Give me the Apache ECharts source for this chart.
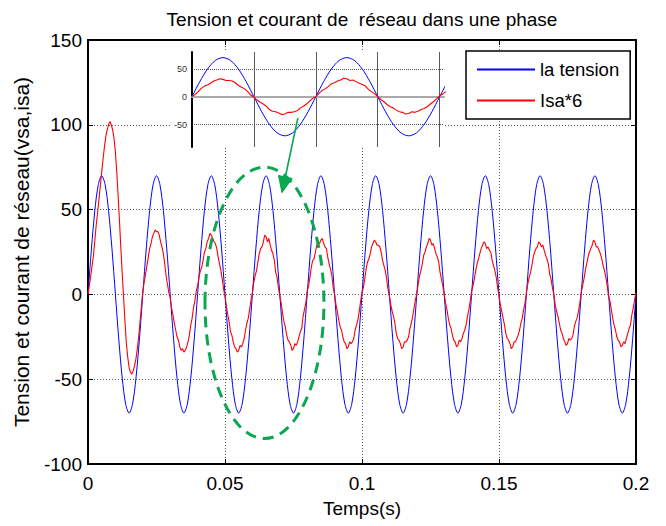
<!DOCTYPE html>
<html>
<head>
<meta charset="utf-8">
<script src="https://cdn.jsdelivr.net/npm/echarts@6/dist/echarts.min.js"></script>
<style>
  html, body { margin: 0; padding: 0; background: #fff; }
  #chart { width: 666px; height: 526px; }
</style>
</head>
<body>
<div id="chart"></div>
<script>
// Phase voltage (V), sampled every 1.25 ms over 0..0.2 s
const tensionStep = 0.00125;
const tension = [
  0, 26.8, 49.5, 64.7, 70, 64.7, 49.5, 26.8, 0, -26.8, -49.5, -64.7, -70, -64.7, -49.5, -26.8,
  0, 26.8, 49.5, 64.7, 70, 64.7, 49.5, 26.8, 0, -26.8, -49.5, -64.7, -70, -64.7, -49.5, -26.8,
  0, 26.8, 49.5, 64.7, 70, 64.7, 49.5, 26.8, 0, -26.8, -49.5, -64.7, -70, -64.7, -49.5, -26.8,
  0, 26.8, 49.5, 64.7, 70, 64.7, 49.5, 26.8, 0, -26.8, -49.5, -64.7, -70, -64.7, -49.5, -26.8,
  0, 26.8, 49.5, 64.7, 70, 64.7, 49.5, 26.8, 0, -26.8, -49.5, -64.7, -70, -64.7, -49.5, -26.8,
  0, 26.8, 49.5, 64.7, 70, 64.7, 49.5, 26.8, 0, -26.8, -49.5, -64.7, -70, -64.7, -49.5, -26.8,
  0, 26.8, 49.5, 64.7, 70, 64.7, 49.5, 26.8, 0, -26.8, -49.5, -64.7, -70, -64.7, -49.5, -26.8,
  0, 26.8, 49.5, 64.7, 70, 64.7, 49.5, 26.8, 0, -26.8, -49.5, -64.7, -70, -64.7, -49.5, -26.8,
  0, 26.8, 49.5, 64.7, 70, 64.7, 49.5, 26.8, 0, -26.8, -49.5, -64.7, -70, -64.7, -49.5, -26.8,
  0, 26.8, 49.5, 64.7, 70, 64.7, 49.5, 26.8, 0, -26.8, -49.5, -64.7, -70, -64.7, -49.5, -26.8,
  0
];

// Line current scaled by 6 (isa*6), sampled every 0.5 ms over 0..0.2 s (one row = 10 ms)
const isaStep = 0.0005;
const isa6 = [
  0, 5, 11, 17, 23, 32, 41, 48, 56, 64, 72, 80, 87, 93, 97, 100, 102, 100, 97, 92,
  84, 72, 58, 43, 27, 12, -2, -16, -29, -37, -43, -46, -47, -45, -42, -38, -32, -25, -16, -7,
  2, 7, 12, 17, 22, 27, 30, 34, 36, 38, 37, 37, 35, 31, 28, 24, 18, 11, 6, 1,
  -2, -8, -12, -17, -21, -25, -27, -31, -33, -32, -34, -33, -31, -28, -24, -18, -14, -8, -4, 2,
  5, 10, 14, 16, 20, 25, 27, 31, 33, 36, 35, 33, 31, 30, 27, 22, 18, 14, 9, 3,
  -1, -7, -12, -16, -22, -24, -28, -31, -32, -34, -33, -30, -31, -29, -26, -21, -17, -14, -9, -3,
  1, 7, 11, 14, 19, 24, 27, 28, 31, 35, 34, 31, 33, 29, 26, 24, 20, 13, 10, 4,
  -1, -5, -11, -16, -19, -24, -27, -28, -30, -33, -32, -29, -30, -28, -25, -22, -20, -13, -9, -5,
  2, 5, 10, 16, 20, 21, 25, 29, 31, 30, 32, 33, 30, 28, 27, 22, 18, 15, 11, 4,
  0, -6, -10, -15, -19, -21, -25, -28, -29, -32, -31, -28, -29, -28, -26, -21, -18, -15, -10, -4,
  1, 4, 9, 15, 19, 21, 24, 28, 30, 32, 31, 29, 29, 28, 25, 20, 17, 14, 9, 3,
  -1, -6, -10, -13, -17, -23, -26, -27, -29, -32, -31, -28, -28, -27, -25, -20, -17, -13, -8, -3,
  0, 6, 11, 14, 18, 23, 25, 28, 30, 33, 32, 29, 30, 27, 24, 22, 19, 13, 9, 5,
  0, -5, -9, -14, -18, -20, -24, -27, -28, -31, -30, -27, -28, -26, -23, -21, -18, -13, -9, -4,
  2, 5, 9, 14, 18, 21, 24, 27, 29, 31, 30, 27, 28, 26, 25, 20, 17, 14, 10, 4,
  -1, -6, -10, -14, -18, -23, -26, -27, -29, -32, -31, -28, -28, -26, -24, -21, -17, -14, -9, -5,
  1, 6, 10, 13, 17, 22, 25, 27, 28, 31, 30, 28, 29, 26, 23, 21, 18, 12, 9, 4,
  0, -6, -10, -13, -17, -21, -23, -26, -28, -30, -29, -26, -27, -26, -24, -19, -16, -14, -10, -5,
  1, 5, 9, 14, 18, 22, 25, 27, 29, 32, 31, 28, 28, 26, 24, 21, 17, 14, 10, 5,
  -1, -4, -9, -14, -18, -21, -25, -27, -28, -31, -30, -28, -29, -26, -23, -20, -18, -12, -8, -3,
  1
];

// Axis ranges and tick spacing
const timeRange = [0, 0.2];
const timeInterval = 0.05;
const valueRange = [-100, 150];
const valueInterval = 50;

// Zoomed window shown in the small inset
const zoomRange = [0.1, 0.1407];
const zoomInterval = 0.01;
const zoomValueRange = [-90, 80];
const zoomLabelValues = [-50, 0, 50];

// Highlight annotation (in data units of the main plot)
const highlightBox = { t0: 0.0427, t1: 0.0861, v0: -85, v1: 75 };
const arrowFrom = [0.0766, 104];
const arrowTo = [0.0708, 60];

const titleText = 'Tension et courant de  réseau dans une phase';
const seriesNames = ['la tension', 'Isa*6'];
const FONT = '"Liberation Sans", Arial, sans-serif';

const tensionPts = tension.map((v, i) => [i * tensionStep, v]);
const isaPts = isa6.map((v, i) => [i * isaStep, v]);
const inWindow = (step) => (p) => p[0] >= zoomRange[0] - 1e-9 && p[0] <= zoomRange[1] + step;

const chart = echarts.init(document.getElementById('chart'), null, { renderer: 'svg' });

const frameLine = { lineStyle: { color: '#000', width: 2 } };
const innerTick = { show: true, inside: true, length: 5, lineStyle: { color: '#000', width: 1 } };
const dotted = { show: true, lineStyle: { color: '#555', width: 1, type: [1, 2] } };
const CLEAR = 'rgba(0,0,0,0)';

chart.setOption({
  animation: false,
  backgroundColor: '#fff',
  title: {
    text: titleText,
    left: 357,
    top: 5,
    textAlign: 'center',
    textStyle: { fontFamily: FONT, fontSize: 19, fontWeight: 'normal', color: '#000' }
  },
  legend: {
    data: seriesNames.map((n) => ({ name: n, icon: 'rect' })),
    orient: 'vertical',
    left: 466,
    top: 51,
    padding: [9, 11, 9, 11],
    itemGap: 12,
    itemWidth: 58,
    itemHeight: 2,
    selectedMode: false,
    backgroundColor: '#fff',
    borderColor: '#000',
    borderWidth: 1.5,
    borderRadius: 0,
    textStyle: { fontFamily: FONT, fontSize: 18.5, color: '#000' },
    z: 20
  },
  grid: [
    { left: 88, right: 30, top: 40, bottom: 62 },
    { left: 192, right: 222, top: 52, bottom: 379, show: true, backgroundColor: '#fff', borderWidth: 0, z: 10 }
  ],
  xAxis: [
    {
      gridIndex: 0, type: 'value', min: timeRange[0], max: timeRange[1], interval: timeInterval,
      axisLine: { onZero: false, ...frameLine }, axisTick: innerTick,
      axisLabel: { color: '#000', fontFamily: FONT, fontSize: 19, margin: 10 },
      splitLine: dotted,
      name: 'Temps(s)', nameLocation: 'middle', nameGap: 35,
      nameTextStyle: { fontFamily: FONT, fontSize: 19, color: '#000' }
    },
    {
      gridIndex: 0, type: 'value', position: 'top', min: timeRange[0], max: timeRange[1], interval: timeInterval,
      axisLine: { onZero: false, ...frameLine }, axisTick: innerTick,
      axisLabel: { show: false }, splitLine: { show: false }
    },
    {
      gridIndex: 1, type: 'value', min: zoomRange[0], max: zoomRange[1], interval: zoomInterval,
      axisLine: { show: true, onZero: true, lineStyle: { color: '#aaa', width: 2 } },
      axisTick: { show: false }, axisLabel: { show: false },
      splitLine: { show: true, lineStyle: { color: ['#5a5a5a', '#5a5a5a', '#5a5a5a', '#5a5a5a', '#5a5a5a', CLEAR], width: 1 } },
      z: 10
    }
  ],
  yAxis: [
    {
      gridIndex: 0, type: 'value', min: valueRange[0], max: valueRange[1], interval: valueInterval,
      axisLine: { onZero: false, ...frameLine }, axisTick: innerTick,
      axisLabel: { color: '#000', fontFamily: FONT, fontSize: 19, margin: 6 },
      splitLine: dotted,
      name: 'Tension et courant de réseau(vsa,isa)', nameLocation: 'middle', nameGap: 56,
      nameTextStyle: { fontFamily: FONT, fontSize: 21, color: '#000' }
    },
    {
      gridIndex: 0, type: 'value', position: 'right', min: valueRange[0], max: valueRange[1], interval: valueInterval,
      axisLine: { onZero: false, ...frameLine }, axisTick: innerTick,
      axisLabel: { show: false }, splitLine: { show: false }
    },
    {
      gridIndex: 1, type: 'value', min: zoomValueRange[0], max: zoomValueRange[1], interval: 10,
      axisLine: { show: true, onZero: false, lineStyle: { color: '#000', width: 2 } },
      axisTick: { show: false },
      axisLabel: {
        color: '#333', fontFamily: FONT, fontSize: 9, margin: 5,
        formatter: (v) => (zoomLabelValues.indexOf(v) >= 0 ? String(v) : '')
      },
      splitLine: {
        show: true,
        lineStyle: {
          color: [CLEAR, CLEAR, CLEAR, CLEAR, '#555', CLEAR, CLEAR, CLEAR, CLEAR, CLEAR],
          width: 1, type: [1, 1]
        }
      },
      z: 10
    }
  ],
  series: [
    {
      name: seriesNames[0], type: 'line', xAxisIndex: 0, yAxisIndex: 0, data: tensionPts,
      symbol: 'none', smooth: 0.3, color: '#0000ff', lineStyle: { color: '#0000ff', width: 1 }, z: 2
    },
    {
      name: seriesNames[1], type: 'line', xAxisIndex: 0, yAxisIndex: 0, data: isaPts,
      symbol: 'none', color: '#ff0000', lineStyle: { color: '#ff0000', width: 1.1 }, z: 3
    },
    {
      name: seriesNames[0], type: 'line', xAxisIndex: 2, yAxisIndex: 2,
      data: tensionPts.filter(inWindow(tensionStep)), clip: true,
      symbol: 'none', smooth: 0.3, color: '#0000ff', lineStyle: { color: '#0000ff', width: 1 }, z: 12
    },
    {
      name: seriesNames[1], type: 'line', xAxisIndex: 2, yAxisIndex: 2,
      data: isaPts.filter(inWindow(isaStep)), clip: true,
      symbol: 'none', color: '#ff0000', lineStyle: { color: '#ff0000', width: 1.1 }, z: 13
    }
  ]
});

// Annotation: dashed ellipse around one period and an arrow from the inset
function drawAnnotations() {
  const toPx = (p) => chart.convertToPixel({ xAxisIndex: 0, yAxisIndex: 0 }, p);
  const a = toPx([highlightBox.t0, highlightBox.v1]);
  const b = toPx([highlightBox.t1, highlightBox.v0]);
  const p0 = toPx(arrowFrom);
  const p1 = toPx(arrowTo);
  const dx = p1[0] - p0[0], dy = p1[1] - p0[1];
  const len = Math.sqrt(dx * dx + dy * dy);
  const ux = dx / len, uy = dy / len;
  const headLen = 16, headHalf = 7;
  const base = [p1[0] - ux * headLen, p1[1] - uy * headLen];
  const green = '#0aa650';
  const insetTop = chart.convertToPixel({ xAxisIndex: 2, yAxisIndex: 2 }, [zoomRange[0], zoomValueRange[1]]);
  const insetBottom = chart.convertToPixel({ xAxisIndex: 2, yAxisIndex: 2 }, [zoomRange[0], zoomValueRange[0]]);
  chart.setOption({
    graphic: [
      {
        type: 'rect', silent: true, z: 9,
        shape: { x: insetTop[0] - 22, y: insetTop[1], width: 22, height: insetBottom[1] - insetTop[1] },
        style: { fill: '#fff' }
      },
      {
        type: 'ellipse', silent: true, z: 30,
        shape: { cx: (a[0] + b[0]) / 2, cy: (a[1] + b[1]) / 2, rx: (b[0] - a[0]) / 2, ry: (b[1] - a[1]) / 2 },
        style: { fill: 'none', stroke: green, lineWidth: 3, lineDash: [11, 7] }
      },
      {
        type: 'line', silent: true, z: 30,
        shape: { x1: p0[0], y1: p0[1], x2: base[0], y2: base[1] },
        style: { stroke: green, lineWidth: 1.6 }
      },
      {
        type: 'polygon', silent: true, z: 30,
        shape: {
          points: [
            [p1[0], p1[1]],
            [base[0] - uy * headHalf, base[1] + ux * headHalf],
            [base[0] + uy * headHalf, base[1] - ux * headHalf]
          ]
        },
        style: { fill: green, stroke: green, lineWidth: 1 }
      }
    ]
  });
}
drawAnnotations();
</script>
</body>
</html>
